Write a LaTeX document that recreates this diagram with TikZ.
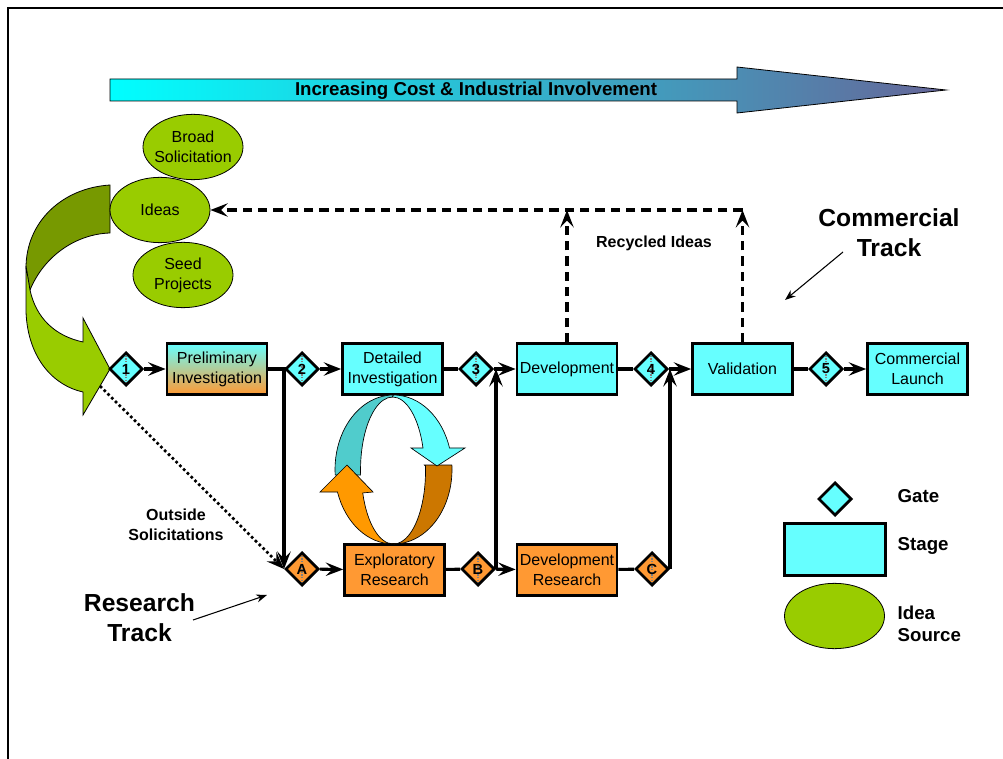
\documentclass[tikz,border=0pt]{standalone}
\usepackage{fontspec}
\setmainfont{Liberation Sans}
\usetikzlibrary{shapes.geometric,arrows.meta}

\definecolor{stagecyan}{RGB}{102,255,255}
\definecolor{stageorange}{RGB}{255,153,51}
\definecolor{ideagreen}{RGB}{153,204,0}
\definecolor{ideadark}{RGB}{119,153,0}
\definecolor{loopteal}{RGB}{80,204,204}
\definecolor{looporange}{RGB}{255,153,0}
\definecolor{loopbrown}{RGB}{204,119,0}
\definecolor{costleft}{RGB}{0,255,255}
\definecolor{costmid}{RGB}{50,200,220}
\definecolor{costright}{RGB}{102,102,153}

\begin{document}
\begin{tikzpicture}[x=0.75pt,y=-0.75pt,
    >={Stealth[length=13pt,width=10pt,inset=5pt]},
    stage/.style={draw,line width=2pt,fill=stagecyan,minimum width=75pt,minimum height=38pt,
        inner sep=1pt,align=center,font=\fontsize{12}{15}\selectfont},
    rstage/.style={stage,fill=stageorange},
    gatebase/.style={diamond,draw,line width=2pt,fill=stagecyan,minimum size=25pt,inner sep=0pt,
        font=\bfseries\fontsize{11}{13}\selectfont},
    gate/.style={gatebase,path picture={\draw[gray,densely dotted,line width=1pt]
        (path picture bounding box.north) -- (path picture bounding box.south);}},
    rgate/.style={gate,fill=stageorange},
    idea/.style={ellipse,draw,line width=0.6pt,fill=ideagreen,minimum width=75pt,minimum height=49pt,
        inner xsep=-6pt,inner ysep=0pt,align=center,font=\fontsize{12}{15}\selectfont},
    link/.style={line width=2.3pt},
    recycle/.style={link,dash pattern=on 7pt off 4.5pt},
    dotline/.style={line width=2pt,dotted},
    pointer/.style={line width=0.8pt,-{Stealth[length=8pt,width=6pt]}},
    note/.style={font=\bfseries\fontsize{12}{15}\selectfont,align=center},
    track/.style={font=\bfseries\fontsize{18.5}{22.5}\selectfont,align=center},
    keytext/.style={font=\bfseries\fontsize{14}{16.5}\selectfont,align=left,anchor=west}]

\useasboundingbox (0,0) rectangle (1003,759);
\draw[line width=1.5pt] (8,759) -- (8,8) -- (1003,8);

\draw[line width=0.6pt,left color=costleft,middle color=costmid,right color=costright]
    (110,79) -- (737,79) -- (737,67) -- (946,90) -- (737,113) -- (737,101) -- (110,101) -- cycle;
\node[font=\bfseries\fontsize{14}{16}\selectfont] (cost) at (476,91) {Increasing Cost \& Industrial Involvement};

\filldraw[fill=ideadark,line width=0.6pt] (110,185) .. controls (62,188) and (26,222) .. (26,268)
    -- (30,290) .. controls (44,256) and (76,234) .. (110,233) -- cycle;
\filldraw[fill=ideagreen,line width=0.6pt] (26,266) -- (26,312) .. controls (28,360) and (55,386) .. (83,392)
    -- (83,415) -- (110,369) -- (83,318) -- (83,342) .. controls (55,336) and (36,318) .. (30,290) -- cycle;

\node[idea] (broad) at (193,147) {Broad\\Solicitation};
\node[idea] (ideas) at (160,210) {Ideas};
\node[idea] (seed) at (183,275) {Seed\\Projects};

\node[gate] (g1) at (126,369) {1};
\node[gate] (g2) at (302,369) {2};
\node[gate] (g3) at (476,369) {3};
\node[gate] (g4) at (651,369) {4};
\node[gate] (g5) at (826,369) {5};
\node[rgate] (gA) at (302,569) {A};
\node[rgate] (gB) at (478,569) {B};
\node[rgate] (gC) at (652,569) {C};

\node[stage,top color=stagecyan,bottom color=stageorange] (prelim) at (217,369) {Preliminary\\Investigation};
\node[stage] (detail) at (392.5,369) {Detailed\\Investigation};
\node[stage] (dev) at (567,369) {Development};
\node[stage] (valid) at (742.5,369) {Validation};
\node[stage] (launch) at (917.5,369) {Commercial\\Launch};
\node[rstage] (explore) at (394.5,570) {Exploratory\\Research};
\node[rstage] (devres) at (567,570) {Development\\Research};

\filldraw[fill=loopteal,line width=0.5pt] (393.5,395) arc[start angle=270,end angle=175.8,x radius=58.5,y radius=74.5]
    -- (360.6,475) arc[start angle=176.1,end angle=270,x radius=32,y radius=73] -- cycle;
\filldraw[fill=loopbrown,line width=0.5pt] (424.4,465) -- (451.9,465) arc[start angle=356.5,end angle=450,x radius=58.5,y radius=74.5]
    arc[start angle=90,end angle=-3.9,x radius=32,y radius=73] -- cycle;
\filldraw[fill=looporange,line width=0.5pt] (337.5,492) arc[start angle=162.4,end angle=90,x radius=58.5,y radius=74.5]
    arc[start angle=90,end angle=162.5,x radius=32,y radius=73] -- (373,492) -- (347,465) -- (320,492) -- cycle;
\filldraw[fill=stagecyan,line width=0.5pt] (393.5,395) arc[start angle=270,end angle=343.2,x radius=58.5,y radius=74.5]
    -- (465,448) -- (437,466) -- (411,448) -- (423,448) arc[start angle=342.5,end angle=270,x radius=32,y radius=73] -- cycle;

\draw[link,->] (g1) -- (prelim);
\draw[link,->] (prelim.east) -| (gA.west);
\draw[link,->] (g2) -- (detail);
\draw[link] (detail) -- (g3);
\draw[link,->] (g3) -- (dev);
\draw[link] (dev) -- (g4);
\draw[link,->] (g4) -- (valid);
\draw[link] (valid) -- (g5);
\draw[link,->] (g5) -- (launch);
\draw[link,->] (gA) -- (explore);
\draw[link] (explore) -- (gB);
\draw[link,->] (gB) -- (devres);
\draw[link] (devres) -- (gC);
\draw[link,->] (gB.east) -- (gB.east |- g3.east);
\draw[link,->] (gC.east) -- (gC.east |- g4.east);

\draw[recycle,->] (dev) -- (dev |- ideas);
\draw[recycle,->] (valid) -- (valid |- ideas);
\draw[recycle,->] (valid |- ideas) -- (ideas);
\node[note] (recycled) at (654,243) {Recycled Ideas};

\coordinate (spout) at (100,386);
\draw[dotline,->] (spout) -- (gA.west);
\node[note] (outside) at (176,524.5) {Outside\\Solicitations};

\node[track] (comm) at (889,233) {Commercial\\Track};
\coordinate (cfrom) at (843,252);
\coordinate (cto) at (785,300);
\draw[pointer] (cfrom) -- (cto);
\node[track] (research) at (139.5,617.5) {Research\\Track};
\coordinate (rfrom) at (193,620);
\coordinate (rto) at (267,595);
\draw[pointer] (rfrom) -- (rto);

\node[gatebase] (keygate) at (835,499) {};
\node[stage,minimum width=76pt,minimum height=39pt] (keystage) at (835,549.5) {};
\node[idea] (keyidea) at (834.5,616) {};
\node[keytext] (keygatetxt) at (893,496) {Gate};
\node[keytext] (keystagetxt) at (893,546) {Stage};
\node[keytext] (keyideatxt) at (893,624) {Idea\\Source};
\end{tikzpicture}
\end{document}
